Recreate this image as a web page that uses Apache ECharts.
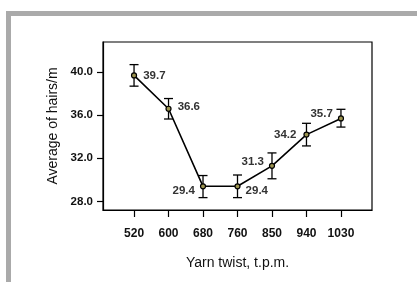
<!DOCTYPE html>
<html>
<head>
<meta charset="utf-8">
<script src="https://cdn.jsdelivr.net/npm/echarts@6/dist/echarts.min.js"></script>
<style>
  html, body { margin: 0; padding: 0; background: #fff; }
  #frame { position: absolute; left: 6px; top: 11px; width: 411px; height: 271px;
           border-top: 5px solid #aaaaaa; border-left: 5px solid #aaaaaa; box-sizing: border-box; }
  #chart { position: absolute; left: 0; top: 0; width: 417px; height: 282px; }
</style>
</head>
<body>
<div id="frame"></div>
<div id="chart"></div>
<script>
var twist = ['520', '600', '680', '760', '850', '940', '1030'];
var hairs = [39.7, 36.6, 29.4, 29.4, 31.3, 34.2, 35.7];
var errUp = [1.0, 0.95, 1.0, 1.05, 1.2, 1.05, 0.85];
var errDown = [1.0, 0.95, 1.05, 1.05, 1.2, 1.05, 0.8];
var yTicks = [28, 32, 36, 40];

// label placement for each point
var labelPos = ['right', 'right', 'left', 'right', 'left', 'left', 'left'];
var labelDy = [0, -2, 5, 5, -4, 0, -5];
var labelDist = [6, 6, 5, 5, 5, 7, 5];

var font = '"Liberation Sans", Arial, sans-serif';

var idx = twist.map(function (t, i) { return i; });

var lineData = hairs.map(function (v, i) {
    return {
        value: [i, v],
        label: { position: labelPos[i], offset: [0, labelDy[i]], distance: labelDist[i] }
    };
});

var errData = hairs.map(function (v, i) {
    return [i, v - errDown[i], v + errUp[i]];
});

var chart = echarts.init(document.getElementById('chart'));

var option = {
    animation: false,
    grid: {
        left: 103, right: 45, top: 42, bottom: 72,
        show: true, borderColor: '#000', borderWidth: 1.2, backgroundColor: 'transparent'
    },
    xAxis: {
        type: 'value',
        min: -0.9, max: 6.9,
        name: 'Yarn twist, t.p.m.',
        nameLocation: 'middle',
        nameGap: 46,
        nameTextStyle: { fontFamily: font, fontSize: 14, color: '#111' },
        splitLine: { show: false },
        axisLine: { show: true, onZero: false, lineStyle: { color: '#000', width: 1.2 } },
        axisTick: { show: true, inside: false, length: 7, customValues: idx, lineStyle: { color: '#000', width: 1.2 } },
        axisLabel: {
            customValues: idx,
            margin: 18,
            fontFamily: font, fontWeight: 'bold', fontSize: 12, color: '#111',
            formatter: function (v) { return twist[Math.round(v)]; }
        }
    },
    yAxis: {
        type: 'value',
        min: 27.2, max: 42.8,
        name: 'Average of hairs/m',
        nameLocation: 'middle',
        nameGap: 40,
        nameTextStyle: { fontFamily: font, fontSize: 14, color: '#111' },
        splitLine: { show: false },
        axisLine: { show: true, onZero: false, lineStyle: { color: '#000', width: 1.2 } },
        axisTick: { show: true, inside: false, length: 6, customValues: yTicks, lineStyle: { color: '#000', width: 1.2 } },
        axisLabel: {
            customValues: yTicks,
            margin: 10,
            fontFamily: font, fontWeight: 'bold', fontSize: 11.5, color: '#111',
            formatter: function (v) { return v.toFixed(1); }
        }
    },
    series: [
        {
            type: 'custom',
            data: errData,
            z: 3,
            renderItem: function (params, api) {
                var x = api.value(0);
                var lo = api.coord([x, api.value(1)]);
                var hi = api.coord([x, api.value(2)]);
                var w = 4.5;
                var st = { stroke: '#000', lineWidth: 1.3, fill: null };
                return {
                    type: 'group',
                    children: [
                        { type: 'line', shape: { x1: lo[0], y1: lo[1], x2: hi[0], y2: hi[1] }, style: st },
                        { type: 'line', shape: { x1: lo[0] - w, y1: lo[1], x2: lo[0] + w, y2: lo[1] }, style: st },
                        { type: 'line', shape: { x1: hi[0] - w, y1: hi[1], x2: hi[0] + w, y2: hi[1] }, style: st }
                    ]
                };
            }
        },
        {
            type: 'line',
            data: lineData,
            z: 4,
            symbol: 'circle',
            symbolSize: 5,
            itemStyle: { color: '#9c9450', borderColor: '#000', borderWidth: 1.2 },
            lineStyle: { color: '#000', width: 1.6 },
            label: {
                show: true,
                fontFamily: font, fontWeight: 'bold', fontSize: 11.5, color: '#333',
                formatter: function (p) { return p.value[1].toFixed(1); }
            }
        }
    ]
};

chart.setOption(option);
</script>
</body>
</html>
